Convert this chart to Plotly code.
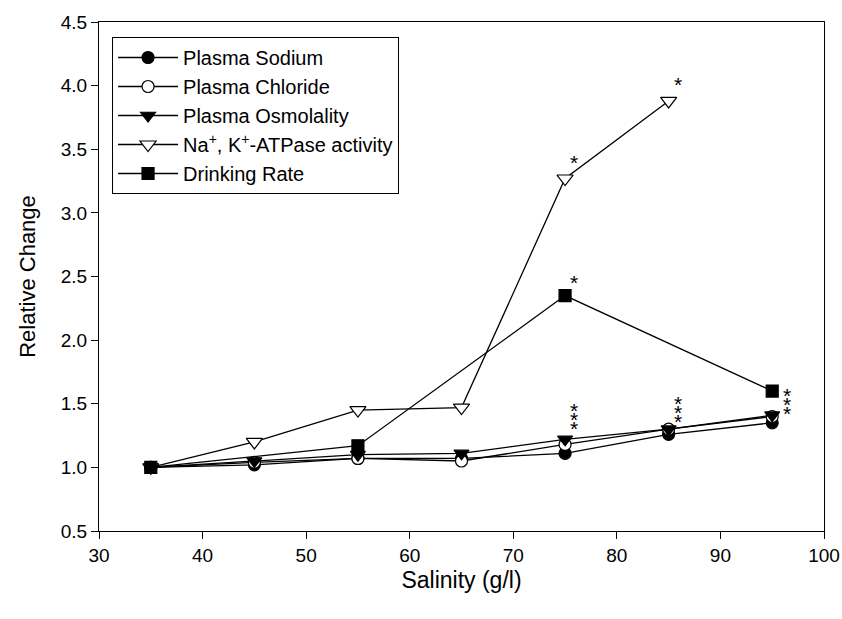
import plotly.graph_objects as go

# Salinity levels (g/l)
salinity = [35, 45, 55, 65, 75, 85, 95]

# Relative change vs. 35 g/l
plasma_sodium = [1.00, 1.02, 1.07, 1.07, 1.11, 1.26, 1.35]
plasma_chloride = [1.00, 1.04, 1.07, 1.05, 1.18, 1.30, 1.40]
plasma_osmolality = [1.00, 1.05, 1.10, 1.11, 1.22, 1.30, 1.41]
atpase_salinity = [35, 45, 55, 65, 75, 85]
atpase_activity = [1.00, 1.20, 1.45, 1.47, 3.27, 3.88]
drinking_salinity = [35, 55, 75, 95]
drinking_rate = [1.00, 1.17, 2.35, 1.60]

FONT = "Liberation Sans, Arial, sans-serif"

series = [
    ("Plasma Sodium", salinity, plasma_sodium,
     dict(symbol="circle", color="black", size=12)),
    ("Plasma Chloride", salinity, plasma_chloride,
     dict(symbol="circle", color="white", size=12)),
    ("Plasma Osmolality", salinity, plasma_osmolality,
     dict(symbol="triangle-down", color="black", size=13)),
    ("Na<sup>+</sup>, K<sup>+</sup>-ATPase activity", atpase_salinity, atpase_activity,
     dict(symbol="triangle-down", color="white", size=14)),
    ("Drinking Rate", drinking_salinity, drinking_rate,
     dict(symbol="square", color="black", size=12)),
]

fig = go.Figure()
for i, (name, xs, ys, mk) in enumerate(series):
    fig.add_trace(go.Scatter(
        x=xs, y=ys, name=name, mode="lines+markers",
        legendgroup=f"g{i}",
        line=dict(color="black", width=1.3),
        marker=dict(symbol=mk["symbol"], size=mk["size"], color=mk["color"],
                    line=dict(color="black", width=1.2)),
    ))

# Significance markers: (x, y, pixel offset x, pixel offset y)
stars = [
    (75, 3.27, 9, 20), (85, 3.88, 9, 20), (75, 2.35, 9, 17),
    (75, 1.22, 9, 15), (75, 1.22, 9, 24), (75, 1.22, 9, 33),
    (85, 1.30, 9, 12), (85, 1.30, 9, 21), (85, 1.30, 9, 30),
    (95, 1.41, 15, 6), (95, 1.41, 15, 15), (95, 1.41, 15, 24),
]
for sx, sy, dx, dy in stars:
    fig.add_annotation(x=sx, y=sy, text="*", showarrow=False,
                       xshift=dx, yshift=dy - 4,
                       font=dict(family=FONT, size=21, color="black"))

axis_common = dict(
    showline=True, linecolor="black", linewidth=1.3, mirror=True,
    ticks="outside", ticklen=7, tickwidth=1.3, tickcolor="black",
    showgrid=False, zeroline=False, automargin=False,
    tickfont=dict(family=FONT, size=19, color="black"),
)

fig.update_xaxes(range=[30, 100], dtick=10, tick0=30,
                 title=dict(text="Salinity (g/l)", standoff=6,
                            font=dict(family=FONT, size=23, color="black")),
                 **axis_common)
fig.update_yaxes(range=[0.5, 4.5], dtick=0.5, tick0=0.5, tickformat=".1f",
                 title=dict(text="Relative Change", standoff=18,
                            font=dict(family=FONT, size=22, color="black")),
                 **axis_common)

fig.update_layout(
    width=842, height=619,
    margin=dict(l=99, r=18, t=22, b=88),
    plot_bgcolor="white", paper_bgcolor="white",
    font=dict(family=FONT, color="black"),
    legend=dict(x=0.018, y=0.9705, xanchor="left", yanchor="top",
                bordercolor="black", borderwidth=1, bgcolor="white",
                font=dict(family=FONT, size=20, color="black"),
                tracegroupgap=0, itemwidth=60),
    showlegend=True,
)

fig.write_html("out.html")
